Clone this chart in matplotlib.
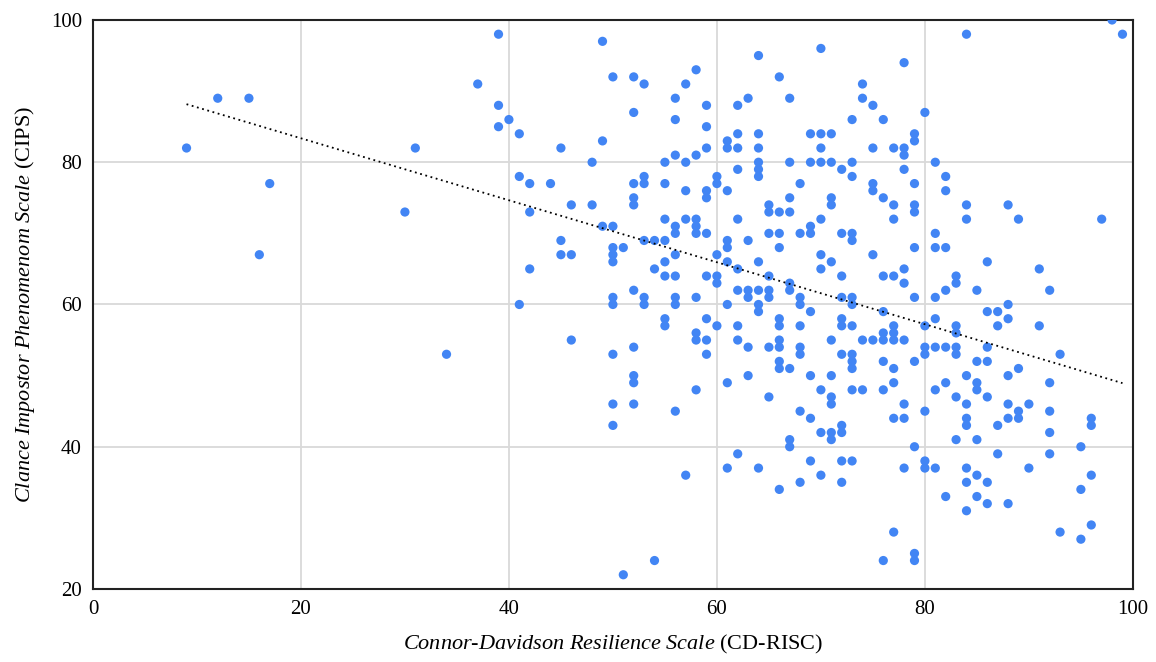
import matplotlib
matplotlib.use("Agg")
import matplotlib.pyplot as plt
import numpy as np

# CD-RISC (x) and CIPS (y) scores
points = [
    (9,82),(12,89),(15,89),(16,67),(17,77),(30,73),(31,82),(34,53),
    (37,91),(39,98),(39,88),(39,85),(40,86),(41,84),(41,78),(41,60),
    (42,77),(42,73),(42,65),(44,77),(45,82),(45,69),(45,67),(46,74),(46,67),(46,55),
    (48,80),(48,74),(49,97),(49,83),(49,71),
    (50,92),(50,71),(50,68),(50,67),(50,66),(50,61),(50,60),(50,53),(50,46),(50,43),
    (51,68),(51,22),
    (52,92),(52,87),(52,77),(52,75),(52,74),(52,62),(52,54),(52,50),(52,49),(52,46),
    (53,91),(53,78),(53,77),(53,69),(53,61),(53,60),
    (54,69),(54,65),(54,24),
    (55,80),(55,77),(55,72),(55,69),(55,66),(55,64),(55,58),(55,57),
    (56,89),(56,86),(56,81),(56,71),(56,70),(56,67),(56,64),(56,61),(56,60),(56,45),
    (57,91),(57,80),(57,76),(57,72),(57,36),
    (58,93),(58,81),(58,72),(58,71),(58,70),(58,61),(58,56),(58,55),(58,48),
    (59,88),(59,85),(59,82),(59,76),(59,75),(59,70),(59,64),(59,58),(59,55),(59,53),
    (60,78),(60,77),(60,67),(60,64),(60,63),(60,57),
    (61,83),(61,82),(61,76),(61,69),(61,68),(61,66),(61,60),(61,49),(61,37),
    (62,88),(62,84),(62,82),(62,79),(62,72),(62,65),(62,62),(62,57),(62,55),(62,39),
    (63,89),(63,69),(63,62),(63,61),(63,54),(63,50),
    (64,95),(64,84),(64,82),(64,80),(64,79),(64,78),(64,66),(64,62),(64,60),(64,59),(64,37),
    (65,74),(65,73),(65,70),(65,64),(65,62),(65,61),(65,54),(65,47),
    (66,92),(66,73),(66,70),(66,68),(66,58),(66,57),(66,55),(66,54),(66,52),(66,51),(66,34),
    (67,89),(67,80),(67,75),(67,73),(67,63),(67,62),(67,51),(67,41),(67,40),
    (68,77),(68,70),(68,61),(68,60),(68,57),(68,54),(68,53),(68,45),(68,35),
    (69,84),(69,80),(69,71),(69,70),(69,59),(69,50),(69,44),(69,38),
    (70,96),(70,84),(70,82),(70,80),(70,72),(70,67),(70,65),(70,48),(70,42),(70,36),
    (71,84),(71,80),(71,75),(71,74),(71,66),(71,55),(71,50),(71,47),(71,46),(71,42),(71,41),
    (72,79),(72,70),(72,64),(72,61),(72,58),(72,57),(72,53),(72,43),(72,42),(72,38),(72,35),
    (73,86),(73,80),(73,78),(73,70),(73,69),(73,61),(73,60),(73,57),(73,53),(73,52),(73,51),(73,48),(73,38),
    (74,91),(74,89),(74,55),(74,48),
    (75,88),(75,82),(75,77),(75,76),(75,67),(75,55),
    (76,86),(76,75),(76,64),(76,59),(76,56),(76,55),(76,52),(76,48),(76,24),
    (77,82),(77,74),(77,72),(77,64),(77,57),(77,56),(77,55),(77,51),(77,49),(77,44),(77,28),
    (78,94),(78,82),(78,81),(78,79),(78,65),(78,63),(78,55),(78,46),(78,44),(78,37),
    (79,84),(79,83),(79,77),(79,74),(79,73),(79,68),(79,61),(79,52),(79,40),(79,25),(79,24),
    (80,87),(80,57),(80,54),(80,53),(80,45),(80,38),(80,37),
    (81,80),(81,70),(81,68),(81,61),(81,58),(81,54),(81,48),(81,37),
    (82,78),(82,76),(82,68),(82,62),(82,54),(82,49),(82,33),
    (83,64),(83,63),(83,57),(83,56),(83,54),(83,53),(83,47),(83,41),
    (84,98),(84,74),(84,72),(84,50),(84,46),(84,44),(84,43),(84,37),(84,35),(84,31),
    (85,62),(85,52),(85,49),(85,48),(85,41),(85,36),(85,33),
    (86,66),(86,59),(86,54),(86,52),(86,47),(86,35),(86,32),
    (87,59),(87,57),(87,43),(87,39),
    (88,74),(88,60),(88,58),(88,50),(88,46),(88,44),(88,32),
    (89,72),(89,51),(89,45),(89,44),
    (90,46),(90,37),
    (91,65),(91,57),
    (92,62),(92,49),(92,45),(92,42),(92,39),
    (93,53),(93,28),
    (95,40),(95,34),(95,27),
    (96,44),(96,43),(96,36),(96,29),
    (97,72),
    (98,100),(99,98),
]
cd_risc = [p[0] for p in points]
cips = [p[1] for p in points]

x_ticks = [0, 20, 40, 60, 80, 100]
y_ticks = [20, 40, 60, 80, 100]

plt.rcParams['font.family'] = ['Liberation Serif', 'DejaVu Serif']
plt.rcParams['mathtext.fontset'] = 'custom'
plt.rcParams['mathtext.rm'] = 'Liberation Serif'
plt.rcParams['mathtext.it'] = 'Liberation Serif:italic'

fig = plt.figure(figsize=(11.56, 6.62), dpi=100)
ax = fig.add_axes([0.0804, 0.1103, 0.8996, 0.8595])

ax.scatter(cd_risc, cips, s=44, color='#4285F4', edgecolors='none', zorder=3)

xa = np.array(cd_risc, dtype=float)
ya = np.array(cips, dtype=float)
m, b = np.polyfit(xa, ya, 1)
xl = np.array([xa.min(), xa.max()])
ax.plot(xl, m * xl + b, color='black', linestyle=(0, (1, 2)), linewidth=1.3, zorder=4)

ax.set_xlim(0, 100)
ax.set_ylim(20, 100)
ax.set_xticks(x_ticks)
ax.set_yticks(y_ticks)
ax.tick_params(length=0, labelsize=15, pad=8)
ax.grid(True, color='#d9d9d9', linewidth=1.3, zorder=0)
ax.set_axisbelow(True)
for sp in ax.spines.values():
    sp.set_color('#222222')
    sp.set_linewidth(1.5)

ax.set_xlabel(r'$\mathit{Connor}$-$\mathit{Davidson\ Resilience\ Scale}$ (CD-RISC)', fontsize=16, labelpad=10)
ax.set_ylabel(r'$\mathit{Clance\ Impostor\ Phenomenom\ Scale}$ (CIPS)', fontsize=16, labelpad=10)

fig.savefig('out.png', dpi=100)
